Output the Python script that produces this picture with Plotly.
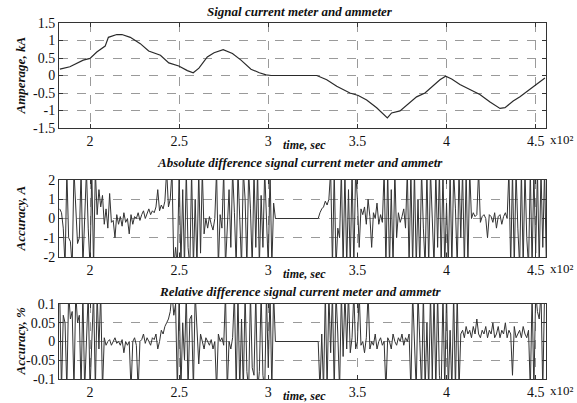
import plotly.graph_objects as go

W, H = 577, 403

# ---- data ----
sig_t = [183.1, 188.7, 196.2, 200, 203.8, 208.5, 210.3, 215, 217.9, 222.6,
         228.2, 232.9, 239.5, 244.2, 249.8, 254.6, 257.9, 261.1, 265.8, 269.6,
         274.7, 279.9, 284.7, 290.3, 295, 298.8, 301.6, 317.8, 327.2, 332.8,
         338.4, 345.8, 350.5, 355.2, 360.8, 366.8, 369.2, 373.9, 378.5, 383.2,
         387.9, 392.6, 396.3, 399.5, 402.9, 407.5, 411.3, 418.7, 424.4, 430,
         432.8, 437.4, 441.2, 446.8, 451.5, 455.2]
sig_v = [0.18, 0.25, 0.44, 0.49, 0.67, 0.84, 1.09, 1.17, 1.17, 1.09,
         0.91, 0.70, 0.58, 0.36, 0.27, 0.14, 0.08, 0.21, 0.53, 0.65,
         0.74, 0.63, 0.44, 0.18, 0.08, 0.02, 0.0, 0.0, 0.0, -0.12,
         -0.31, -0.50, -0.57, -0.70, -0.92, -1.21, -1.07, -1.01, -0.82, -0.61,
         -0.50, -0.29, -0.12, -0.02, -0.10, -0.26, -0.36, -0.54, -0.76, -0.94,
         -0.92, -0.73, -0.61, -0.40, -0.20, -0.07]

# sampled once per second from t = 183 s to 456 s
t_start = 183
abs_diff = [
    0.5, 0.3, -0.5, -2.5, 2.5, -1.0, -1.2, -2.5, 2.5, 0.2,      # 183
    -1.3, -1.0, 2.5, -2.5, 0.1, 2.5, -0.5, -2.5, 2.5, -2.5,     # 193
    2.5, 0.2, 1.5, 0.6, 1.2, -0.3, 0.5, -0.5, 1.3, -0.2,        # 203
    -0.1, -1.0, 0.2, -0.3, 0.1, -0.4, 0.3, -0.2, 0.0, -0.8,     # 213
    0.2, -0.3, 0.1, 0.0, 0.3, -0.1, 0.2, 0.4, 0.0, 0.3,         # 223
    0.5, 0.2, 0.4, 0.3, 0.6, 1.5, 0.4, 0.7, 0.5, 0.9,           # 233
    2.5, 0.6, 1.0, 2.5, -2.5, -1.5, -2.5, 2.5, -2.5, 1.5,       # 243
    -2.5, 2.5, -1.5, -2.5, 2.5, -2.5, 1.0, -2.5, 2.5, -1.8,     # 253
    2.5, -0.8, 0.0, -0.5, 0.1, -0.3, -0.6, 0.0, 2.5, -2.5,      # 263
    0.2, -0.5, 2.5, -2.5, 0.0, 1.5, -1.5, 2.5, 0.3, -2.5,       # 273
    2.5, -0.2, -2.5, 2.5, 1.0, -2.5, 2.5, 0.5, -2.5, 2.5,       # 283
    -1.5, 2.5, -2.5, 1.2, -1.5, 2.5, -0.5, -2.5, 2.5, -2.5,     # 293
    0.8, 0, 0, 0, 0, 0, 0, 0, 0, 0,                             # 303
    0, 0, 0, 0, 0, 0, 0, 0, 0, 0,                               # 313
    0, 0, 0, 0, 0, 0, 0.3, 0.5, 0.6, 0.9,                       # 323
    0.7, 1.0, 2.5, -2.5, 2.5, -2.5, -0.5, -1.0, 2.5, -2.5,      # 333
    2.5, -2.5, 1.5, -2.5, 2.5, -2.5, 2.5, 1.0, -1.5, 0.5,       # 343
    0.2, 0.6, -0.3, 1.0, 0.1, -1.5, 0.3, 0.0, 0.8, -0.3,        # 353
    0.2, -0.2, 2.5, -2.5, 2.5, -2.5, 1.5, -2.5, 2.5, -1.0,      # 363
    0.3, -0.2, 0.1, 0.5, -0.5, 2.5, -2.5, 2.5, -2.5, 2.5,       # 373
    -2.5, 1.0, -2.5, 2.5, -0.5, -2.5, 2.5, -2.5, 2.5, 0.3,      # 383
    -2.5, 2.5, -1.5, 2.5, -2.5, 2.5, -2.5, 0.8, -2.5, 2.5,      # 393
    -2.5, 2.5, 0.5, -2.5, 2.5, -1.0, 2.5, -2.5, 2.5, -2.5,      # 403
    2.5, 0.0, 0.3, 0.1, 0.2, 2.5, -0.2, 0.1, 0.2, 0.0,          # 413
    -1.0, 0.2, 0.1, -0.2, 0.3, -0.5, 0.1, 0.2, -0.3, 0.1,       # 423
    0.3, 0.0, 2.5, -2.5, 2.5, -2.5, 2.5, -0.5, -2.5, 2.5,       # 433
    -2.5, 2.5, -1.0, -2.5, 2.5, -2.5, 2.5, -1.8, 2.5, -2.5,     # 443
    2.5, -1.5, 2.5, -2.5,                                       # 453
]
rel_diff = [
    0.13, -0.13, 0.07, 0.05, -0.13, 0.13, 0.06, 0.08, -0.13, 0.13,          # 183
    0.05, 0.07, -0.13, 0.13, -0.13, 0.02, 0.13, -0.13, 0.0, 0.13,           # 193
    -0.13, 0.13, -0.02, 0.13, -0.13, 0.01, -0.01, 0.0, 0.005, -0.01,        # 203
    0.0, 0.01, -0.005, 0.0, -0.01, 0.005, -0.03, 0.0, -0.01, 0.0,           # 213
    -0.13, 0.0, 0.01, -0.01, -0.13, 0.0, 0.005, 0.02, -0.005, 0.01,         # 223
    0.0, -0.01, 0.01, 0.005, 0.02, -0.02, 0.0, 0.03, 0.02, 0.04,            # 233
    0.05, 0.06, 0.08, 0.13, 0.07, 0.10, -0.13, 0.13, -0.13, 0.05,           # 243
    -0.05, 0.13, -0.13, 0.06, 0.07, -0.13, 0.13, 0.05, -0.06, 0.02,         # 253
    0.0, -0.02, 0.01, 0.0, -0.01, 0.005, -0.02, 0.0, -0.13, 0.02,           # 263
    0.0, 0.01, -0.01, 0.13, -0.13, 0.0, -0.02, 0.01, 0.13, -0.13,           # 273
    0.13, -0.13, 0.06, -0.13, 0.13, -0.08, -0.13, 0.13, -0.07, -0.09,       # 283
    0.13, -0.13, -0.08, 0.13, -0.09, -0.13, 0.13, -0.07, 0.13, -0.13,       # 293
    0.13, 0, 0, 0, 0, 0, 0, 0, 0, 0,                                        # 303
    0, 0, 0, 0, 0, 0, 0, 0, 0, 0,                                           # 313
    0, 0, 0, 0, 0, 0, -0.13, 0.02, -0.13, 0.13,                             # 323
    -0.13, 0.13, -0.03, 0.13, -0.13, 0.13, 0.02, -0.13, 0.13, -0.04,        # 333
    0.13, -0.02, 0.13, -0.03, 0.01, 0.13, -0.02, 0.0, 0.13, -0.01,          # 343
    0.0, -0.03, 0.01, 0.13, -0.02, 0.0, -0.01, 0.02, -0.02, 0.0,            # 353
    0.01, -0.01, 0.0, -0.13, 0.01, 0.0, -0.02, 0.02, 0.0, -0.01,            # 363
    0.01, 0.0, 0.02, -0.01, 0.01, 0.0, 0.02, -0.13, 0.13, 0.0,              # 373
    -0.13, 0.13, 0.01, -0.13, 0.13, -0.13, 0.05, -0.13, 0.13, -0.1,         # 383
    0.13, -0.13, 0.13, -0.09, -0.13, 0.13, -0.13, 0.13, -0.13, 0.03,        # 393
    -0.13, 0.13, -0.13, 0.13, -0.13, 0.02, 0.03, 0.01, 0.04, 0.02,          # 403
    0.03, 0.01, 0.04, 0.02, 0.06, 0.02, 0.01, 0.03, 0.02, 0.04,             # 413
    0.01, 0.03, 0.02, 0.05, 0.01, 0.02, 0.04, 0.01, 0.03, 0.02,             # 423
    0.05, 0.01, 0.03, 0.02, -0.09, 0.04, 0.01, 0.02, 0.03, 0.01,            # 433
    0.04, 0.02, 0.01, 0.03, -0.13, 0.13, -0.13, 0.13, 0.08, 0.06,           # 443
    0.13, -0.13, 0.13, 0.10,                                                # 453
]
t_grid = [t_start + i for i in range(len(abs_diff))]

x_tickvals = [200, 250, 300, 350, 400, 450]
x_ticktext = ["2", "2.5", "3", "3.5", "4", "4.5"]
y1_ticks = [-1.5, -1, -0.5, 0, 0.5, 1, 1.5]
y1_text = ["-1.5", "-1", "-0.5", "0", "0.5", "1", "1.5"]
y2_ticks = [-2, -1, 0, 1, 2]
y2_text = ["-2", "-1", "0", "1", "2"]
y3_ticks = [-0.1, -0.05, 0, 0.05, 0.1]
y3_text = ["-0.1", "-0.05", "0", "0.05", "0.1"]
x_mult = "x10²"

titles = ["Signal current meter and ammeter",
          "Absolute difference signal current meter and ammetr",
          "Relative difference signal current meter and ammetr"]
ylabels = ["Amperage, kA", "Accuracy, A", "Accuracy, %"]

# ---- layout helpers (pixels -> paper) ----
def px(x):
    return x / W

def py(y):
    return 1 - y / H

X0, X1 = 59, 546
frames = [(23, 128), (180, 257), (304, 379)]
XR = [182.6, 455.8]

FONT = "Liberation Serif"
LINE = "#2a2a2a"

fig = go.Figure()
fig.add_trace(go.Scatter(x=sig_t, y=sig_v, mode="lines",
                         line=dict(color=LINE, width=1.2), xaxis="x", yaxis="y"))
fig.add_trace(go.Scatter(x=t_grid, y=abs_diff, mode="lines",
                         line=dict(color="#333", width=1), xaxis="x2", yaxis="y2"))
fig.add_trace(go.Scatter(x=t_grid, y=rel_diff, mode="lines",
                         line=dict(color="#333", width=1), xaxis="x3", yaxis="y3"))

axis_common = dict(showline=True, linecolor="#333", linewidth=1, mirror="ticks",
                   ticks="inside", ticklen=4, tickcolor="#333", automargin=False,
                   showgrid=True, gridcolor="#9a9a9a", griddash="dash", gridwidth=1,
                   zeroline=False, tickfont=dict(family=FONT, size=14, color="#111"))

layout = dict(width=W, height=H, margin=dict(l=0, r=0, t=0, b=0, pad=0),
              font=dict(family=FONT, size=13, color="#111"),
              paper_bgcolor="white", plot_bgcolor="white", showlegend=False)

yinfo = [([-1.5, 1.5], y1_ticks, y1_text),
         ([-2, 2], y2_ticks, y2_text),
         ([-0.1, 0.1], y3_ticks, y3_text)]

annotations = []
for i, (top, bot) in enumerate(frames):
    sfx = "" if i == 0 else str(i + 1)
    layout["xaxis" + sfx] = dict(axis_common, domain=[px(X0), px(X1)], range=XR,
                                 tickvals=x_tickvals, ticktext=x_ticktext,
                                 anchor="y" + sfx)
    rng, tv, tt = yinfo[i]
    layout["yaxis" + sfx] = dict(axis_common, domain=[py(bot), py(top)], range=rng,
                                 tickvals=tv, ticktext=tt, anchor="x" + sfx)
    title_y = [11, 163, 291][i]
    annotations.append(dict(text="<b><i>" + titles[i] + "</i></b>", x=px(300), y=py(title_y),
                            xref="paper", yref="paper", showarrow=False,
                            xanchor="center", yanchor="middle",
                            font=dict(family=FONT, size=13, color="#111")))
    annotations.append(dict(text="<b><i>" + ylabels[i] + "</i></b>", x=px(20),
                            y=py((top + bot) / 2), xref="paper", yref="paper",
                            showarrow=False, textangle=-90, xanchor="center", yanchor="middle",
                            font=dict(family=FONT, size=13, color="#111")))
    annotations.append(dict(text="<b><i>time, sec</i></b>", x=px(304), y=py(bot + 17),
                            xref="paper", yref="paper", showarrow=False,
                            xanchor="center", yanchor="middle",
                            font=dict(family=FONT, size=12, color="#111")))
    annotations.append(dict(text=x_mult, x=px(549), y=py(bot + 11),
                            xref="paper", yref="paper", showarrow=False,
                            xanchor="left", yanchor="middle", borderpad=0,
                            font=dict(family=FONT, size=13, color="#111")))

layout["annotations"] = annotations
fig.update_layout(**layout)

fig.write_html("out.html", config={"displayModeBar": False},
               post_script="document.body.style.margin='0';document.body.style.overflow='hidden';")
